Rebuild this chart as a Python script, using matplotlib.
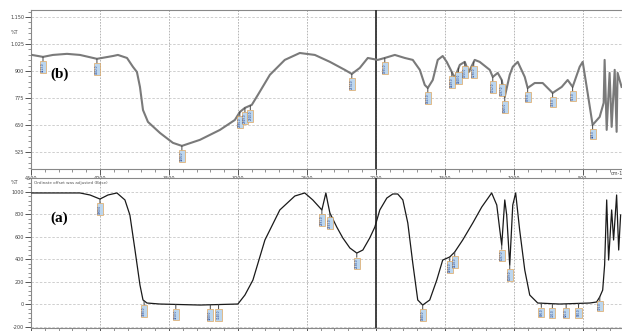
import numpy as np
import matplotlib
matplotlib.use("Agg")
import matplotlib.pyplot as plt
from matplotlib.ticker import AutoMinorLocator

# spectrum (b) - upper trace
wn_b = [4493, 4413, 4341, 4239, 4145, 4022, 3906, 3870, 3804, 3761, 3732, 3710, 3688, 3652,
        3565, 3471, 3406, 3275, 3130, 3022, 2986, 2949, 2899, 2855, 2768, 2660, 2551, 2442,
        2333, 2225, 2174, 2116, 2058, 1986, 1935, 1862, 1790, 1732, 1681, 1645, 1623, 1587,
        1551, 1515, 1486, 1449, 1428, 1391, 1355, 1326, 1283, 1247, 1174, 1152, 1116, 1087,
        1065, 1029, 1007, 971, 920, 899, 848, 790, 718, 652, 609, 573, 522, 500, 471, 428,
        377, 348, 341, 326, 305, 290, 268, 254, 247, 218]
t_b = [974, 965, 974, 979, 974, 956, 969, 974, 960, 919, 895, 826, 719, 664,
       613, 567, 553, 581, 627, 673, 710, 729, 743, 789, 882, 951, 983, 974,
       942, 905, 886, 914, 960, 951, 960, 974, 960, 951, 905, 835, 821, 858,
       951, 969, 942, 895, 868, 928, 942, 895, 951, 942, 905, 872, 891, 858,
       780, 882, 919, 942, 872, 821, 844, 844, 798, 826, 858, 826, 919, 942, 826, 650,
       687, 752, 951, 627, 891, 641, 905, 618, 891, 826]

# spectrum (a) - lower trace
wn_a = [4493, 4145, 4072, 4000, 3942, 3877, 3819, 3783, 3746, 3710, 3688, 3659, 3565, 3275,
        3000, 2949, 2891, 2804, 2696, 2587, 2515, 2457, 2391, 2362, 2348, 2333, 2283, 2239,
        2188, 2138, 2094, 2044, 2007, 1971, 1920, 1877, 1841, 1804, 1768, 1732, 1696, 1660,
        1609, 1558, 1515, 1464, 1428, 1370, 1297, 1232, 1160, 1123, 1101, 1087, 1065, 1051,
        1029, 1007, 986, 957, 920, 884, 826, 667, 449, 399, 377, 355, 341, 326, 312, 290,
        276, 254, 239, 225]
t_a = [987, 987, 969, 933, 969, 987, 925, 791, 480, 169, 36, 9, 0, -9,
       0, 80, 213, 569, 836, 960, 987, 925, 836, 987, 898, 809, 684, 587,
       498, 453, 480, 587, 684, 836, 942, 978, 978, 925, 720, 364, 36, -9,
       36, 213, 391, 418, 462, 569, 720, 862, 987, 880, 658, 524, 925, 791,
       347, 880, 987, 658, 302, 80, 9, 0, 9, 18, 62, 124, 347, 925, 391, 836,
       569, 969, 480, 791]

# peak pick positions (cm-1)
peaks_b = [4413, 4022, 3406, 2986, 2949, 2910, 2174, 1935, 1623, 1449, 1400, 1355, 1290,
           1152, 1087, 1065, 899, 718, 573, 428]
peaks_a = [4000, 3680, 3450, 3200, 3140, 2391, 2333, 2138, 1660, 1464, 1428, 1087, 1029,
           800, 720, 620, 530, 376]

xticks = [4500, 4000, 3500, 3000, 2500, 2000, 1500, 1000, 500]
yticks_b = [525, 650, 775, 900, 1025, 1150]
yticks_b_lbl = ["525", "650", "775", "900", "1.025", "1.150"]
yticks_a = [-200, 0, 200, 400, 600, 800, 1000]

fig = plt.figure(figsize=(6.22, 3.31), dpi=100)
ax_b = fig.add_axes([31 / 622, 1 - 169 / 331, 591 / 622, 159 / 331])
ax_a = fig.add_axes([31 / 622, 1 - 328 / 331, 591 / 622, 150 / 331])


def style(ax, yt, ylbl, ylim):
    ax.set_xlim(4500, 215)
    ax.set_ylim(*ylim)
    ax.set_xticks(xticks)
    ax.set_yticks(yt)
    ax.set_yticklabels(ylbl)
    ax.xaxis.set_minor_locator(AutoMinorLocator(5))
    ax.yaxis.set_minor_locator(AutoMinorLocator(5))
    ax.tick_params(which="major", length=4, width=0.7, color="#555", labelsize=3.5,
                   labelcolor="#444", pad=1)
    ax.tick_params(which="minor", length=2, width=0.5, color="#666")
    ax.xaxis.grid(True, ls=(0, (2, 1.5)), color="#aaa", lw=0.6)
    ax.yaxis.grid(True, ls=(0, (3, 2)), color="#c8c8c8", lw=0.6)
    ax.spines["right"].set_visible(False)
    for s in ("left", "bottom", "top"):
        ax.spines[s].set_color("#888")
        ax.spines[s].set_linewidth(0.8)
    ax.axvline(2000, color="#333", lw=1.3, zorder=3)


style(ax_b, yticks_b, yticks_b_lbl, (446, 1182))
style(ax_a, yticks_a, [str(v) for v in yticks_a], (-213, 1120))
ax_a.tick_params(axis="x", labelbottom=False)

ax_b.plot(wn_b, t_b, color="#7a7a7a", lw=1.5, zorder=4)
ax_a.plot(wn_a, t_a, color="#1a1a1a", lw=0.9, zorder=4)


def label_peaks(ax, peaks, wn, t):
    order = np.argsort(wn)
    xs = np.array(wn)[order]
    ys = np.array(t)[order]
    for p in peaks:
        yv = np.interp(p, xs, ys)
        ax.annotate(f"{p:.1f}", xy=(p, yv), xytext=(0, -4), textcoords="offset points",
                    rotation=90, fontsize=2.0, ha="center", va="top", color="#23408e",
                    bbox=dict(boxstyle="square,pad=0.4", fc="#bcd6ee", ec="#e0973a", lw=0.4),
                    arrowprops=dict(arrowstyle="-", lw=0.7, color="#444",
                                    shrinkA=0, shrinkB=0), zorder=5)


label_peaks(ax_b, peaks_b, wn_b, t_b)
label_peaks(ax_a, peaks_a, wn_a, t_a)

ax_b.text(4360, 870, "(b)", fontsize=11, fontweight="bold", family="Liberation Serif")
ax_a.text(4360, 730, "(a)", fontsize=11, fontweight="bold", family="Liberation Serif")

fig.text(15 / 622, 1 - 32 / 331, "%T", fontsize=3.5, color="#444", ha="center", va="center")
fig.text(15 / 622, 1 - 183 / 331, "%T", fontsize=3.5, color="#444", ha="center", va="center")
fig.text(34 / 622, 1 - 183 / 331, "Ordinate offset was adjusted (Base)", fontsize=3,
         color="#555", ha="left", va="center")
fig.text(617 / 622, 1 - 174 / 331, "cm-1", fontsize=3.5, color="#444", ha="center", va="center")

fig.savefig("out.png", dpi=100)
